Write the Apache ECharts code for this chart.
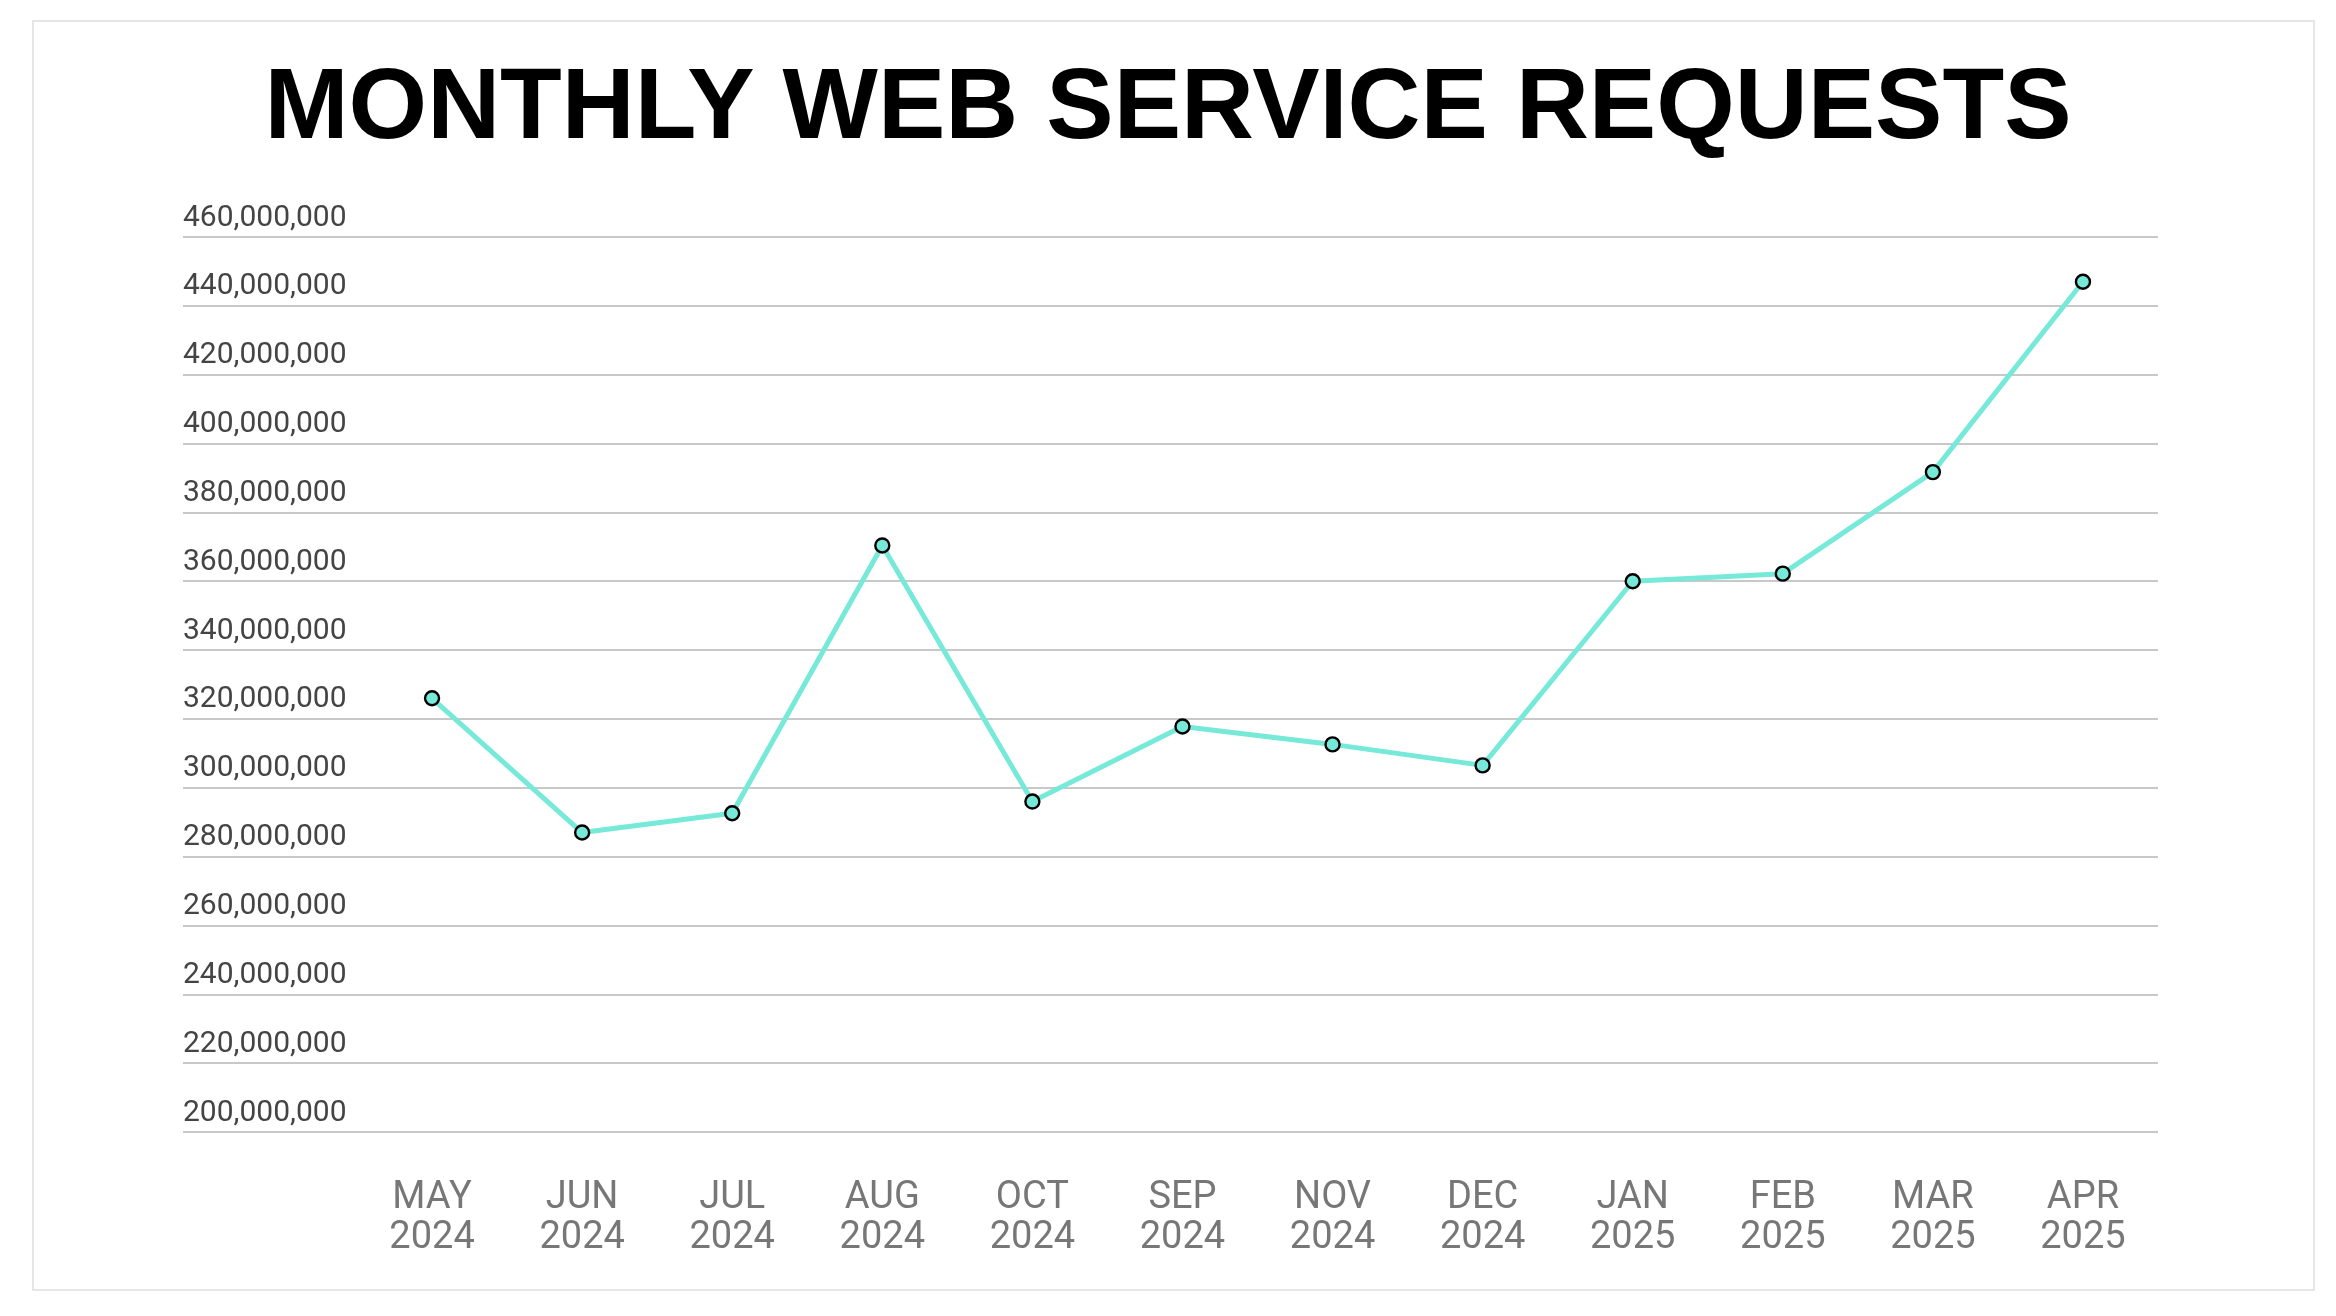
<!DOCTYPE html>
<html lang="en">
<head>
<meta charset="UTF-8">
<title>Monthly Web Service Requests</title>
<style>
  html, body { margin: 0; padding: 0; background: #fff; }
  #chart { width: 2336px; height: 1316px; }
</style>
</head>
<body>
<div id="chart"></div>
<script src="https://cdn.jsdelivr.net/npm/echarts@6/dist/echarts.min.js"></script>
<script>
  // months as they appear on the axis (order kept as in the source)
  let months = ['MAY\n2024', 'JUN\n2024', 'JUL\n2024', 'AUG\n2024', 'OCT\n2024', 'SEP\n2024',
                'NOV\n2024', 'DEC\n2024', 'JAN\n2025', 'FEB\n2025', 'MAR\n2025', 'APR\n2025']
  let requests = [326000000, 287000000, 292600000, 370400000, 296000000, 317800000,
                  312600000, 306500000, 360000000, 362200000, 391700000, 447000000]
  let yMin = 200000000, yMax = 460000000, yStep = 20000000

  let chart = echarts.init(document.getElementById('chart'))
  let fmt = v => v.toLocaleString('en-US')

  let option = {
    backgroundColor: '#fff',
    title: {
      text: 'MONTHLY WEB SERVICE REQUESTS',
      left: 'center',
      top: 55,
      textStyle: { fontFamily: 'Liberation Sans', fontWeight: 900, fontSize: 101, color: '#000' }
    },
    graphic: [{
      type: 'rect',
      shape: { x: 33, y: 21, width: 2281, height: 1269 },
      style: { fill: 'none', stroke: '#e6e6e6', lineWidth: 2 },
      silent: true
    }],
    grid: [
      // grid 0 only carries the horizontal guide lines and the y labels
      { left: 183, right: 178, top: 237, bottom: 184 },
      // grid 1 holds the line itself
      { left: 357, right: 178, top: 237, bottom: 184 }
    ],
    xAxis: [
      { gridIndex: 0, type: 'category', data: months, show: false },
      {
        gridIndex: 1, type: 'category', data: months, boundaryGap: true,
        axisLine: { show: false }, axisTick: { show: false },
        axisLabel: { color: '#777', fontFamily: 'Roboto', fontSize: 38, lineHeight: 40, margin: 46, interval: 0 }
      }
    ],
    yAxis: [
      {
        gridIndex: 0, type: 'value', min: yMin, max: yMax, interval: yStep,
        axisLine: { show: false }, axisTick: { show: false },
        splitLine: { lineStyle: { color: '#c8c8c8', width: 2 } },
        axisLabel: {
          inside: true, align: 'left', verticalAlign: 'bottom', margin: 0,
          padding: [0, 0, 4, 0], color: '#444', fontFamily: 'Roboto', fontSize: 30,
          formatter: fmt
        }
      },
      { gridIndex: 1, type: 'value', min: yMin, max: yMax, interval: yStep, show: false, splitLine: { show: false } }
    ],
    series: [{
      type: 'line',
      xAxisIndex: 1, yAxisIndex: 1,
      data: requests,
      symbol: 'circle',
      symbolSize: 14,
      lineStyle: { color: '#76e9d9', width: 5 },
      itemStyle: { color: '#76e9d9', borderColor: '#000', borderWidth: 2.4 },
      animation: false
    }]
  }
  chart.setOption(option)
</script>
</body>
</html>
